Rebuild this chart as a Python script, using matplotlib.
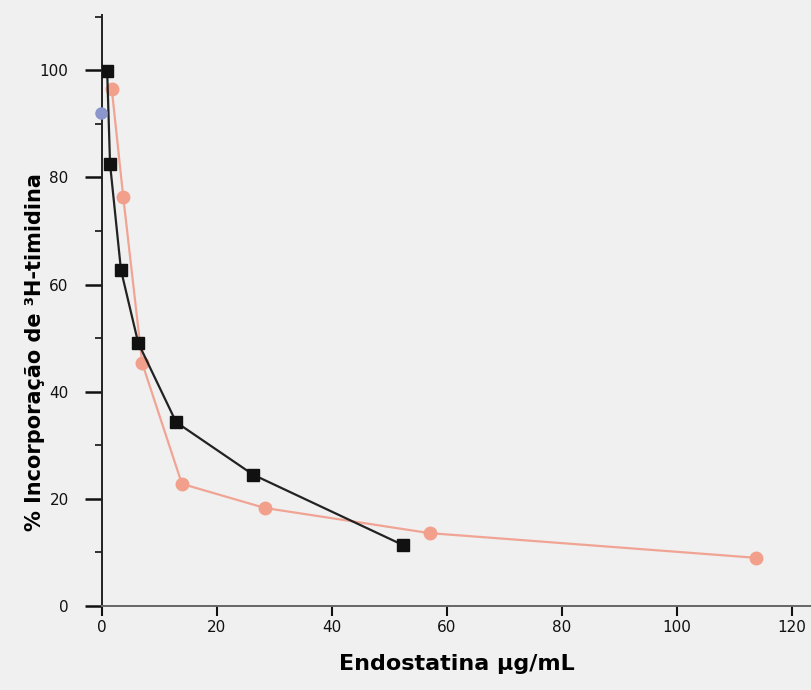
import matplotlib
matplotlib.use("Agg")
import matplotlib.pyplot as plt
from matplotlib.ticker import MultipleLocator

# data
black_x = [0.9, 1.4, 3.3, 6.3, 12.9, 26.3, 52.3]
black_y = [99.8, 82.5, 62.7, 49.1, 34.3, 24.5, 11.4]
salmon_x = [1.7, 3.7, 7.0, 13.9, 28.3, 57.0, 113.7]
salmon_y = [96.5, 76.3, 45.3, 22.8, 18.3, 13.6, 9.0]
blue_x = [-0.2]
blue_y = [92.0]

x_ticks = [0, 20, 40, 60, 80, 100, 120]
y_ticks = [0, 20, 40, 60, 80, 100]

plt.rcParams['font.family'] = ['Liberation Sans Narrow', 'DejaVu Sans']

fig = plt.figure(figsize=(8.12, 6.9), dpi=100)
fig.patch.set_facecolor('#f0f0f0')
ax = fig.add_axes([102 / 812, 84 / 690, 710 / 812, 591 / 690])
ax.set_facecolor('#f0f0f0')

ax.plot(salmon_x, salmon_y, color='#f0a494', lw=1.6, marker='o', ms=9,
        mfc='#f2a08c', mec='#f2a08c', zorder=2)
ax.plot(black_x, black_y, color='#222222', lw=1.6, marker='s', ms=8,
        mfc='#111111', mec='#111111', zorder=3)
ax.plot(blue_x, blue_y, 'o', ms=8, color='#8a96cc', zorder=3, clip_on=False)

ax.set_xlim(0, 123.5)
ax.set_ylim(0, 110.3)

for s in ['top', 'right']:
    ax.spines[s].set_visible(False)
ax.spines['left'].set_color('#222222')
ax.spines['left'].set_linewidth(1.4)
ax.spines['bottom'].set_color('#666666')
ax.spines['bottom'].set_linewidth(1.4)

ax.set_xticks(x_ticks)
ax.set_xticklabels([str(t) for t in x_ticks])
ax.set_yticks(y_ticks)
ax.set_yticklabels([str(t) for t in y_ticks])
ax.yaxis.set_minor_locator(MultipleLocator(10))

ax.tick_params(axis='x', direction='out', length=7, width=1.5, colors='#111111',
               labelsize=11, pad=3)
ax.tick_params(axis='y', which='major', direction='out', length=12, width=1.8,
               colors='#111111', labelsize=11, pad=12)
ax.tick_params(axis='y', which='minor', direction='out', length=5, width=1.2,
               colors='#111111')

ax.set_xlabel('Endostatina µg/mL', fontsize=16, fontweight='bold',
              family=['DejaVu Sans'], labelpad=14)
ax.set_ylabel('% Incorporação de ³H-timidina', fontsize=15, fontweight='bold',
              family=['DejaVu Sans'], va='center')
ax.yaxis.set_label_coords(-0.094, 0.43)

fig.savefig('out.png', dpi=100, facecolor=fig.get_facecolor())
